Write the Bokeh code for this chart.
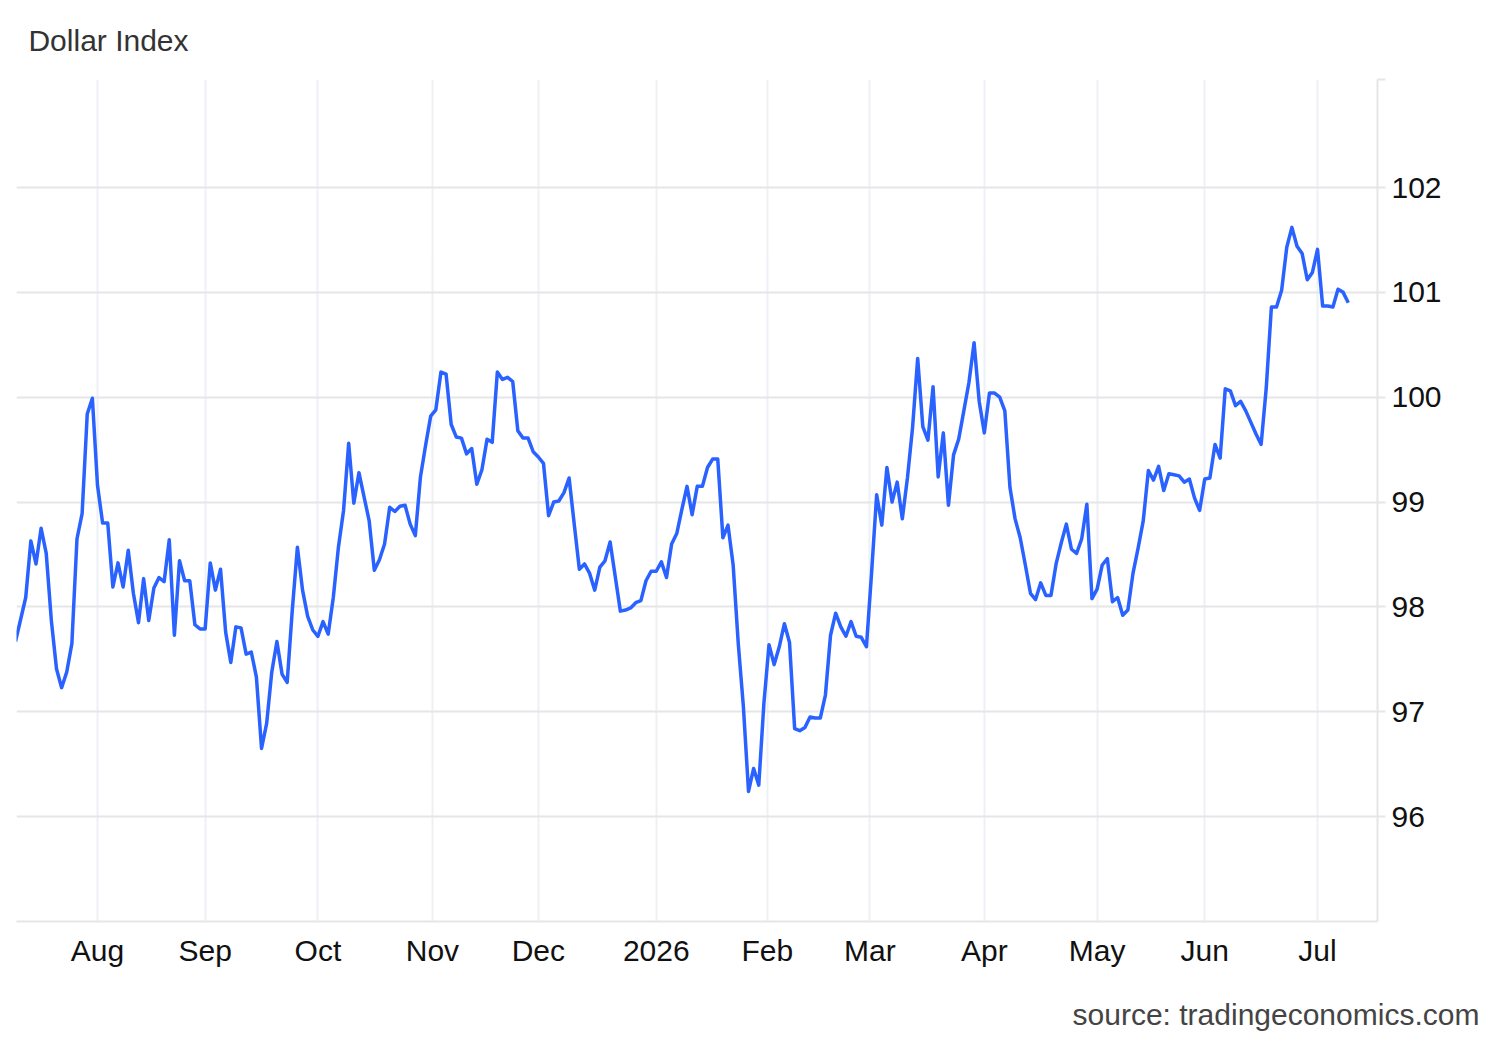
import numpy as np
import pandas as pd
from bokeh.plotting import figure
from bokeh.models import Range1d, FixedTicker, LinearAxis
from bokeh.embed import file_html
from bokeh.resources import INLINE

title_text = "Dollar Index"
source_text = "source: tradingeconomics.com"

start_date = "2025-07-10"   # first trading day shown
origin_date = "2025-08-01"  # axis origin (index 0)

month_starts = ["2025-08-01", "2025-09-01", "2025-10-01", "2025-11-01", "2025-12-01",
                "2026-01-01", "2026-02-01", "2026-03-01", "2026-04-01", "2026-05-01",
                "2026-06-01", "2026-07-01"]
month_labels = ["Aug", "Sep", "Oct", "Nov", "Dec", "2026", "Feb", "Mar", "Apr", "May", "Jun", "Jul"]

y_ticks = [96, 97, 98, 99, 100, 101, 102]
y_top = 103.03
y_bottom = 95.0

# daily (weekday) closes, 2025-07-10 .. 2026-07-09
values = [
    97.67, 97.88, 98.09, 98.63, 98.41, 98.75, 98.51, 97.87, 97.41, 97.23,
    97.38, 97.65, 98.65, 98.89, 99.84, 99.99, 99.16, 98.80, 98.80, 98.19,
    98.42, 98.19, 98.54, 98.13, 97.85, 98.27, 97.87, 98.18, 98.28, 98.24,
    98.64, 97.73, 98.44, 98.25, 98.25, 97.83, 97.79, 97.79, 98.42, 98.16,
    98.36, 97.76, 97.47, 97.81, 97.80, 97.55, 97.57, 97.33, 96.65, 96.89,
    97.38, 97.67, 97.36, 97.28, 97.97, 98.57, 98.16, 97.91, 97.78, 97.72,
    97.86, 97.74, 98.09, 98.57, 98.92, 99.56, 98.99, 99.28, 99.05, 98.82,
    98.35, 98.45, 98.60, 98.95, 98.91, 98.96, 98.97, 98.79, 98.68, 99.24,
    99.54, 99.82, 99.88, 100.24, 100.22, 99.74, 99.62, 99.61, 99.46, 99.51,
    99.17, 99.31, 99.60, 99.57, 100.24, 100.17, 100.19, 100.15, 99.68, 99.61,
    99.61, 99.48, 99.43, 99.37, 98.87, 99.00, 99.01, 99.09, 99.23, 98.79,
    98.36, 98.41, 98.32, 98.16, 98.38, 98.44, 98.62, 98.29, 97.96, 97.97,
    97.99, 98.04, 98.06, 98.25, 98.34, 98.34, 98.43, 98.28, 98.60, 98.70,
    98.93, 99.15, 98.88, 99.15, 99.15, 99.33, 99.41, 99.41, 98.66, 98.78,
    98.40, 97.65, 97.05, 96.24, 96.46, 96.30, 97.08, 97.64, 97.45, 97.62,
    97.84, 97.66, 96.84, 96.82, 96.85, 96.95, 96.94, 96.94, 97.16, 97.73,
    97.94, 97.81, 97.72, 97.86, 97.72, 97.71, 97.62, 98.32, 99.07, 98.78,
    99.33, 99.00, 99.19, 98.84, 99.23, 99.71, 100.37, 99.72, 99.59, 100.10,
    99.24, 99.66, 98.97, 99.45, 99.60, 99.87, 100.14, 100.52, 99.96, 99.66,
    100.04, 100.04, 100.00, 99.87, 99.14, 98.84, 98.66, 98.40, 98.13, 98.07,
    98.23, 98.11, 98.11, 98.41, 98.61, 98.79, 98.55, 98.51, 98.65, 98.98,
    98.08, 98.17, 98.40, 98.46, 98.05, 98.09, 97.92, 97.97, 98.32, 98.56,
    98.82, 99.30, 99.21, 99.34, 99.11, 99.27, 99.26, 99.25, 99.19, 99.22,
    99.04, 98.92, 99.22, 99.23, 99.55, 99.42, 100.08, 100.06, 99.92, 99.96,
    99.87, 99.76, 99.65, 99.55, 100.09, 100.86, 100.86, 101.02, 101.43, 101.62,
    101.44, 101.37, 101.12, 101.19, 101.41, 100.87, 100.87, 100.86, 101.03, 101.00,
    100.90,
]

origin = np.datetime64(origin_date)


def ordinal_pos(d):
    """Trading-day axis position; weekend days are spread across the gap."""
    d = pd.Timestamp(d)
    n = int(np.busday_count(origin, np.datetime64(d.date())))
    wd = d.weekday()
    if wd >= 5:
        return n - 1 + (wd - 4) / 3.0
    return float(n)


dates = pd.bdate_range(start_date, periods=len(values))
xs = [ordinal_pos(d) for d in dates]
tick_pos = [ordinal_pos(d) for d in month_starts]

FONT = "Liberation Sans"
FS = "30px"
X_START, X_END = -15.8, 249.7
FRAME_L, FRAME_R = 16, 1377


def px_to_x(px):
    return X_START + (px - FRAME_L) / (FRAME_R - FRAME_L) * (X_END - X_START)


p = figure(width=1484, height=1040, output_backend="svg", toolbar_location=None,
           x_range=Range1d(X_START, X_END), y_range=Range1d(y_bottom, y_top),
           y_axis_location="right",
           min_border_left=16, min_border_right=107, min_border_top=79, min_border_bottom=119)
p.outline_line_color = None
p.background_fill_color = "white"
p.border_fill_color = "white"

p.line(xs, values, line_color="#2962ff", line_width=3.5, line_join="round")

# x axis
p.xaxis.ticker = FixedTicker(ticks=tick_pos)
p.xaxis.major_label_overrides = {t: lab for t, lab in zip(tick_pos, month_labels)}
p.xaxis.axis_line_color = "#e6e6e6"
p.xaxis.axis_line_width = 2
p.xaxis.major_tick_line_color = None
p.xaxis.major_tick_out = 0
p.xaxis.major_tick_in = 0
p.xaxis.minor_tick_line_color = None
p.xaxis.major_label_text_font = FONT
p.xaxis.major_label_text_font_size = FS
p.xaxis.major_label_text_color = "#111111"
p.xaxis.major_label_standoff = 12


def text_axis(text, center_px, color, standoff):
    c = px_to_x(center_px)
    return LinearAxis(ticker=FixedTicker(ticks=[c]), major_label_overrides={c: text},
                      axis_line_color=None, major_tick_line_color=None,
                      major_tick_out=0, major_tick_in=0, minor_tick_line_color=None,
                      major_label_text_font=FONT, major_label_text_font_size=FS,
                      major_label_text_color=color, major_label_standoff=standoff)


# source note below the date labels, title above the plot area
p.add_layout(text_axis(source_text, 1275.5, "#444444", 28), "below")
p.add_layout(text_axis(title_text, 108.0, "#333333", 23), "above")

# y axis (right)
p.yaxis.ticker = FixedTicker(ticks=y_ticks + [y_top])
p.yaxis.major_label_overrides = {y_top: ""}
p.yaxis.axis_line_color = "#e6e6e6"
p.yaxis.axis_line_width = 2
p.yaxis.major_tick_line_color = "#e6e6e6"
p.yaxis.major_tick_line_width = 2
p.yaxis.major_tick_out = 8
p.yaxis.major_tick_in = 0
p.yaxis.minor_tick_line_color = None
p.yaxis.major_label_text_font = FONT
p.yaxis.major_label_text_font_size = FS
p.yaxis.major_label_text_color = "#111111"
p.yaxis.major_label_standoff = 6

# grids
p.xgrid.grid_line_color = "#edf0f5"
p.xgrid.grid_line_width = 2
p.ygrid.grid_line_color = "#e6e6e6"
p.ygrid.grid_line_width = 2

open("out.html", "w").write(file_html(p, INLINE))
